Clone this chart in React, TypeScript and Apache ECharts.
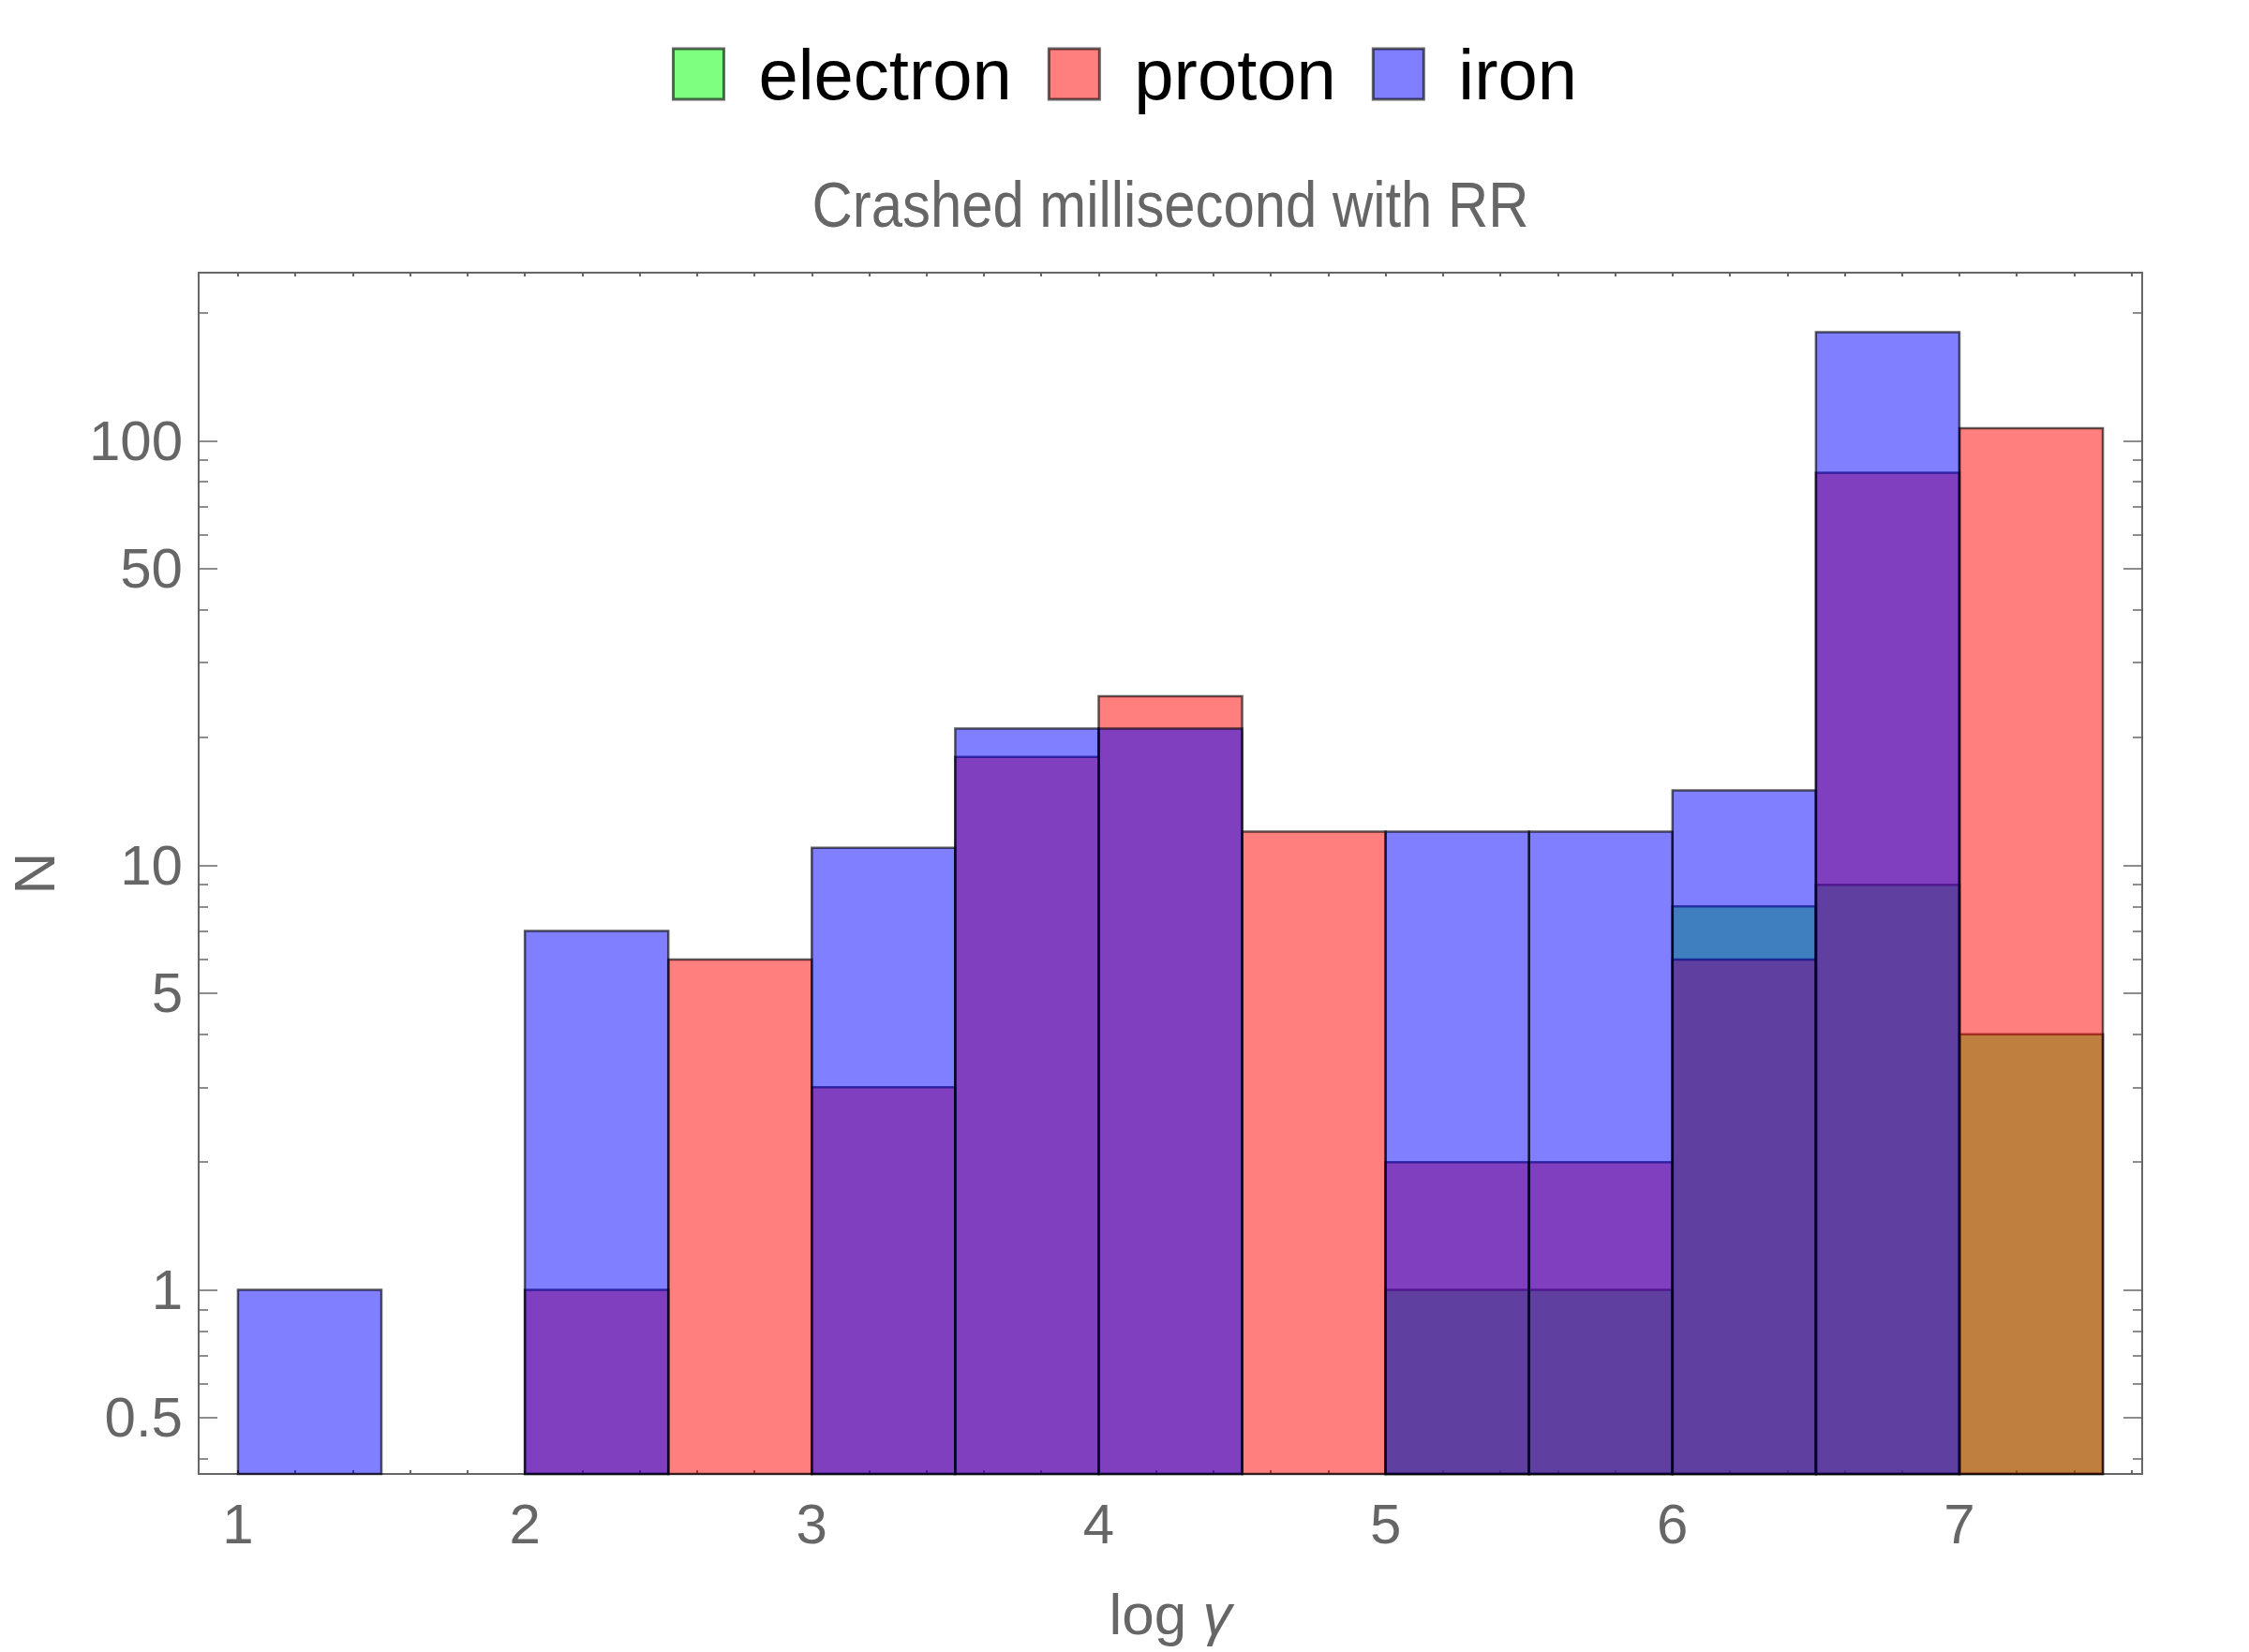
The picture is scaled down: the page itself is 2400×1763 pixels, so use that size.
import React, { useEffect, useRef } from "react";
import * as echarts from "echarts";

// Histogram bins (log gamma), width 0.5
const binStarts = [1, 1.5, 2, 2.5, 3, 3.5, 4, 4.5, 5, 5.5, 6, 6.5, 7];
const binWidth = 0.5;
const seriesNames = ["electron", "proton", "iron"];
const electronCounts = [0, 0, 0, 0, 0, 0, 0, 0, 1, 1, 8, 9, 4];
const protonCounts = [0, 0, 1, 6, 3, 18, 25, 12, 2, 2, 6, 84, 107];
const ironCounts = [1, 0, 7, 0, 11, 21, 21, 0, 12, 12, 15, 180, 0];

// Axis ticks
const yMajorTicks = [0.5, 1, 5, 10, 50, 100];
const yMinorTicks = [0.4, 0.6, 0.7, 0.8, 0.9, 2, 3, 4, 6, 7, 8, 9, 20, 30, 40, 60, 70, 80, 90, 200];
const xMajorTicks = [1, 2, 3, 4, 5, 6, 7];
const xMinorTicks = [
  1, 1.2, 1.4, 1.6, 1.8, 2, 2.2, 2.4, 2.6, 2.8, 3, 3.2, 3.4, 3.6, 3.8, 4, 4.2, 4.4, 4.6, 4.8,
  5, 5.2, 5.4, 5.6, 5.8, 6, 6.2, 6.4, 6.6, 6.8, 7, 7.2, 7.4, 7.6,
];

const titleText = "Crashed millisecond with RR";

const X_MIN = 0.863;
const X_MAX = 7.637;
const Y_MIN = 0.3685;
const Y_MAX = 248.7;

const FONT = "'Liberation Sans', Arial, Helvetica, sans-serif";
const GRAY = "#666666";
const fills = ["rgba(0,255,0,0.5)", "rgba(255,0,0,0.5)", "rgba(0,0,255,0.5)"];
const EDGE = "rgba(0,0,0,0.62)";

function toData(counts: number[]) {
  const out: number[][] = [];
  counts.forEach((c, i) => {
    if (c > 0) out.push([binStarts[i], binStarts[i] + binWidth, c]);
  });
  return out;
}

function makeSeries(name: string, counts: number[], fill: string) {
  return {
    type: "custom",
    name,
    xAxisIndex: 0,
    yAxisIndex: 0,
    encode: { x: [0, 1], y: 2 },
    itemStyle: { color: fill },
    data: toData(counts),
    renderItem: (params: any, api: any) => {
      const x0 = api.value(0);
      const x1 = api.value(1);
      const y = api.value(2);
      const tl = api.coord([x0, y]);
      const br = api.coord([x1, Y_MIN]);
      return {
        type: "rect",
        shape: { x: tl[0], y: tl[1], width: br[0] - tl[0], height: br[1] - tl[1] },
        style: { fill, stroke: EDGE, lineWidth: 2.5 },
      };
    },
  };
}

const axisLine = { show: true, lineStyle: { color: GRAY, width: 2 } };

export default function App() {
  const ref = useRef<HTMLDivElement>(null);
  useEffect(() => {
    if (!ref.current) return;
    const chart = echarts.init(ref.current, null, { renderer: "svg" });
    const yBase = (position: string, ticks: number[], len: number, labels: boolean, line: boolean) => ({
      type: "log",
      logBase: 10,
      position,
      min: Y_MIN,
      max: Y_MAX,
      axisLine: line ? axisLine : { show: false },
      splitLine: { show: false },
      minorTick: { show: false },
      axisTick: {
        show: true,
        inside: true,
        length: len,
        customValues: ticks,
        lineStyle: { color: GRAY, width: 1.5 },
      },
      axisLabel: labels
        ? {
            show: true,
            customValues: yMajorTicks,
            margin: 17,
            fontSize: 60,
            color: GRAY,
            fontFamily: FONT,
            formatter: (v: number) => String(Math.round(v * 10) / 10),
          }
        : { show: false },
    });
    const xBase = (position: string, labels: boolean) => ({
      type: "value",
      position,
      min: X_MIN,
      max: X_MAX,
      axisLine,
      splitLine: { show: false },
      axisTick: {
        show: true,
        inside: true,
        length: 4,
        customValues: xMinorTicks,
        lineStyle: { color: GRAY, width: 2 },
      },
      axisLabel: labels
        ? {
            show: true,
            customValues: xMajorTicks,
            margin: 23,
            fontSize: 60,
            color: GRAY,
            fontFamily: FONT,
            formatter: (v: number) => String(Math.round(v)),
          }
        : { show: false },
    });
    const xBottom: any = xBase("bottom", true);
    xBottom.name = "log {i|γ}";
    xBottom.nameLocation = "middle";
    xBottom.nameGap = 118;
    xBottom.nameMoveOverlap = false;
    xBottom.nameTextStyle = {
      fontSize: 62,
      color: GRAY,
      fontFamily: FONT,
      rich: { i: { fontStyle: "italic", fontSize: 62, color: GRAY, fontFamily: FONT } },
    };
    const yLeft: any = yBase("left", yMajorTicks, 20, true, true);
    yLeft.name = "N";
    yLeft.nameLocation = "middle";
    yLeft.nameRotate = 90;
    yLeft.nameGap = 145;
    yLeft.nameMoveOverlap = false;
    yLeft.nameTextStyle = { fontSize: 62, color: GRAY, fontFamily: FONT };

    chart.setOption({
      animation: false,
      backgroundColor: "#ffffff",
      graphic: [
        {
          type: "text",
          x: 1249,
          y: 253,
          scaleX: 0.88,
          silent: true,
          style: {
            text: titleText,
            fontSize: 68,
            fontFamily: FONT,
            fill: GRAY,
            textAlign: "center",
            textVerticalAlign: "bottom",
          },
        },
      ],
      legend: {
        top: 36,
        left: "center",
        orient: "horizontal",
        itemWidth: 54,
        itemHeight: 54,
        itemGap: 38,
        selectedMode: false,
        icon: "rect",
        itemStyle: { borderColor: "rgba(0,0,0,0.6)", borderWidth: 3 },
        textStyle: { fontSize: 76, color: "#000000", fontFamily: FONT, padding: [0, 0, 0, 32] },
        data: seriesNames.map((n, i) => ({ name: n, icon: "rect", itemStyle: { color: fills[i] } })),
      },
      grid: {
        left: 212,
        right: 114,
        top: 291,
        bottom: 190,
        containLabel: false,
        outerBoundsMode: "none",
      },
      xAxis: [xBottom, xBase("top", false)],
      yAxis: [
        yLeft,
        yBase("left", yMinorTicks, 10, false, false),
        yBase("right", yMajorTicks, 20, false, true),
        yBase("right", yMinorTicks, 10, false, false),
      ],
      series: [
        makeSeries(seriesNames[0], electronCounts, fills[0]),
        makeSeries(seriesNames[1], protonCounts, fills[1]),
        makeSeries(seriesNames[2], ironCounts, fills[2]),
      ],
    });
    return () => chart.dispose();
  }, []);
  return (
    <div
      ref={ref}
      style={{ position: "absolute", left: 0, top: 0, width: 2400, height: 1763, background: "#fff" }}
    />
  );
}
